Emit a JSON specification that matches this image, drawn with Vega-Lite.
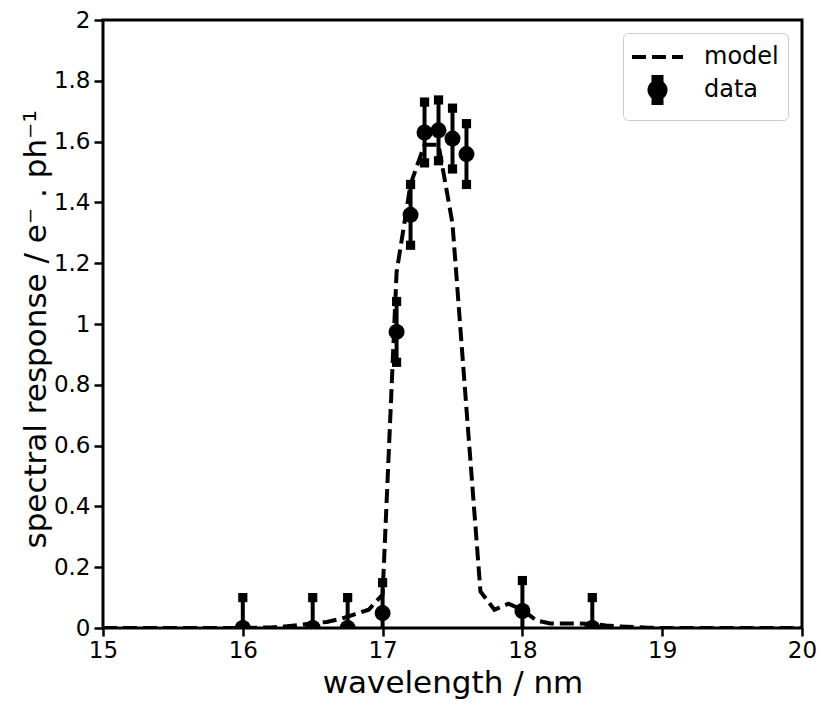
{
  "$schema": "https://vega.github.io/schema/vega-lite/v6.json",
  "autosize": "none",
  "width": 699,
  "height": 608,
  "padding": {"left": 103, "top": 20, "right": 28, "bottom": 82},
  "background": "white",
  "config": {
    "font": "DejaVu Sans",
    "view": {"stroke": "black", "strokeWidth": 3},
    "axis": {
      "domain": false,
      "grid": false,
      "tickColor": "black",
      "tickWidth": 2.5,
      "labelColor": "black",
      "labelFont": "DejaVu Sans",
      "labelFontSize": 23,
      "titleColor": "black",
      "titleFont": "DejaVu Sans",
      "titleFontSize": 31,
      "titleFontWeight": "normal"
    }
  },
  "datasets": {
    "model": [
      {"wl": 15.0, "resp": 0.0, "series": "model"},
      {"wl": 16.0, "resp": 0.0, "series": "model"},
      {"wl": 16.1, "resp": 0.001, "series": "model"},
      {"wl": 16.2, "resp": 0.002, "series": "model"},
      {"wl": 16.3, "resp": 0.005, "series": "model"},
      {"wl": 16.4, "resp": 0.01, "series": "model"},
      {"wl": 16.5, "resp": 0.015, "series": "model"},
      {"wl": 16.6, "resp": 0.02, "series": "model"},
      {"wl": 16.7, "resp": 0.03, "series": "model"},
      {"wl": 16.8, "resp": 0.045, "series": "model"},
      {"wl": 16.9, "resp": 0.06, "series": "model"},
      {"wl": 17.0, "resp": 0.11, "series": "model"},
      {"wl": 17.1, "resp": 1.17, "series": "model"},
      {"wl": 17.2, "resp": 1.46, "series": "model"},
      {"wl": 17.3, "resp": 1.59, "series": "model"},
      {"wl": 17.4, "resp": 1.59, "series": "model"},
      {"wl": 17.5, "resp": 1.33, "series": "model"},
      {"wl": 17.6, "resp": 0.72, "series": "model"},
      {"wl": 17.7, "resp": 0.12, "series": "model"},
      {"wl": 17.8, "resp": 0.06, "series": "model"},
      {"wl": 17.9, "resp": 0.08, "series": "model"},
      {"wl": 18.0, "resp": 0.06, "series": "model"},
      {"wl": 18.1, "resp": 0.025, "series": "model"},
      {"wl": 18.2, "resp": 0.015, "series": "model"},
      {"wl": 18.3, "resp": 0.015, "series": "model"},
      {"wl": 18.4, "resp": 0.015, "series": "model"},
      {"wl": 18.5, "resp": 0.013, "series": "model"},
      {"wl": 18.6, "resp": 0.008, "series": "model"},
      {"wl": 18.7, "resp": 0.005, "series": "model"},
      {"wl": 18.8, "resp": 0.003, "series": "model"},
      {"wl": 18.9, "resp": 0.001, "series": "model"},
      {"wl": 19.0, "resp": 0.0, "series": "model"},
      {"wl": 20.0, "resp": 0.0, "series": "model"}
    ],
    "measured": [
      {"wl": 16.0, "resp": 0.0, "lo": -0.1, "hi": 0.1, "series": "data"},
      {"wl": 16.5, "resp": 0.0, "lo": -0.1, "hi": 0.1, "series": "data"},
      {"wl": 16.75, "resp": 0.0, "lo": -0.1, "hi": 0.1, "series": "data"},
      {"wl": 17.0, "resp": 0.049, "lo": -0.051, "hi": 0.149, "series": "data"},
      {"wl": 17.1, "resp": 0.974, "lo": 0.874, "hi": 1.074, "series": "data"},
      {"wl": 17.2, "resp": 1.359, "lo": 1.259, "hi": 1.459, "series": "data"},
      {"wl": 17.3, "resp": 1.63, "lo": 1.53, "hi": 1.73, "series": "data"},
      {"wl": 17.4, "resp": 1.637, "lo": 1.537, "hi": 1.737, "series": "data"},
      {"wl": 17.5, "resp": 1.61, "lo": 1.51, "hi": 1.71, "series": "data"},
      {"wl": 17.6, "resp": 1.559, "lo": 1.459, "hi": 1.659, "series": "data"},
      {"wl": 18.0, "resp": 0.056, "lo": -0.044, "hi": 0.156, "series": "data"},
      {"wl": 18.5, "resp": 0.0, "lo": -0.1, "hi": 0.1, "series": "data"}
    ]
  },
  "encoding": {
    "x": {
      "field": "wl",
      "type": "quantitative",
      "scale": {"domain": [15, 20], "nice": false, "zero": false},
      "axis": {
        "values": [15, 16, 17, 18, 19, 20],
        "format": "d",
        "labelFlush": false,
        "tickSize": 8,
        "labelPadding": 3,
        "title": "wavelength / nm",
        "titleBaseline": "alphabetic",
        "titleY": 64
      }
    }
  },
  "layer": [
    {
      "data": {"name": "model"},
      "mark": {"type": "line", "strokeWidth": 4, "strokeDash": [14, 6], "clip": true},
      "encoding": {
        "y": {
          "field": "resp",
          "type": "quantitative",
          "scale": {"domain": [0, 2], "nice": false},
          "axis": {
            "values": [0, 0.1, 0.2, 0.3, 0.4, 0.5, 0.6, 0.7, 0.8, 0.9, 1, 1.1, 1.2, 1.3, 1.4, 1.5, 1.6, 1.7, 1.8, 1.9, 2],
            "labelExpr": "round(datum.value * 10) % 2 === 0 ? format(datum.value, '~g') : ''",
            "labelOverlap": false,
            "labelFlush": false,
            "tickSize": 9,
            "labelPadding": 4,
            "title": "spectral response / e⁻ . ph⁻¹",
            "titleAngle": 270,
            "titleAlign": "left",
            "titleBaseline": "alphabetic",
            "titleX": -58,
            "titleY": 528
          }
        },
        "color": {
          "field": "series",
          "type": "nominal",
          "scale": {"domain": ["model", "data"], "range": ["black", "black"]},
          "legend": {
            "title": null,
            "orient": "none",
            "legendX": 520,
            "legendY": 13,
            "padding": 9,
            "strokeColor": "#cccccc",
            "fillColor": "white",
            "cornerRadius": 5,
            "symbolSize": 676,
            "symbolStrokeWidth": 4,
            "labelFont": "DejaVu Sans",
            "labelFontSize": 24,
            "labelColor": "black",
            "labelOffset": 42,
            "rowPadding": 0,
            "encode": {
              "symbols": {
                "update": {
                  "x": {"value": 25.5},
                  "shape": {"signal": "datum.value === 'model' ? 'stroke' : 'M-0.31,-1H0.31V-0.38H-0.31Z M-0.31,0.38H0.31V1H-0.31Z M-0.15,-0.4H0.15V0.4H-0.15Z M-0.615,0A0.615,0.615 0 1,1 0.615,0A0.615,0.615 0 1,1 -0.615,0Z'"},
                  "size": {"signal": "datum.value === 'model' ? 2601 : 676"},
                  "fill": {"signal": "datum.value === 'model' ? 'transparent' : 'black'"},
                  "stroke": {"signal": "datum.value === 'model' ? 'black' : 'transparent'"},
                  "strokeWidth": {"value": 4},
                  "strokeDash": {"signal": "datum.value === 'model' ? [14, 6] : [1, 0]"},
                  "opacity": {"value": 1}
                }
              }
            }
          }
        }
      }
    },
    {
      "data": {"name": "measured"},
      "mark": {"type": "rule", "strokeWidth": 4, "color": "black", "clip": true},
      "encoding": {
        "y": {"field": "lo", "type": "quantitative"},
        "y2": {"field": "hi"}
      }
    },
    {
      "data": {"name": "measured"},
      "mark": {"type": "point", "shape": "square", "filled": true, "size": 85, "color": "black", "opacity": 1, "clip": true},
      "encoding": {
        "y": {"field": "lo", "type": "quantitative"}
      }
    },
    {
      "data": {"name": "measured"},
      "mark": {"type": "point", "shape": "square", "filled": true, "size": 85, "color": "black", "opacity": 1, "clip": true},
      "encoding": {
        "y": {"field": "hi", "type": "quantitative"}
      }
    },
    {
      "data": {"name": "measured"},
      "mark": {"type": "point", "shape": "circle", "filled": true, "size": 256, "opacity": 1, "clip": true},
      "encoding": {
        "y": {"field": "resp", "type": "quantitative"},
        "color": {"field": "series", "type": "nominal"}
      }
    }
  ]
}
